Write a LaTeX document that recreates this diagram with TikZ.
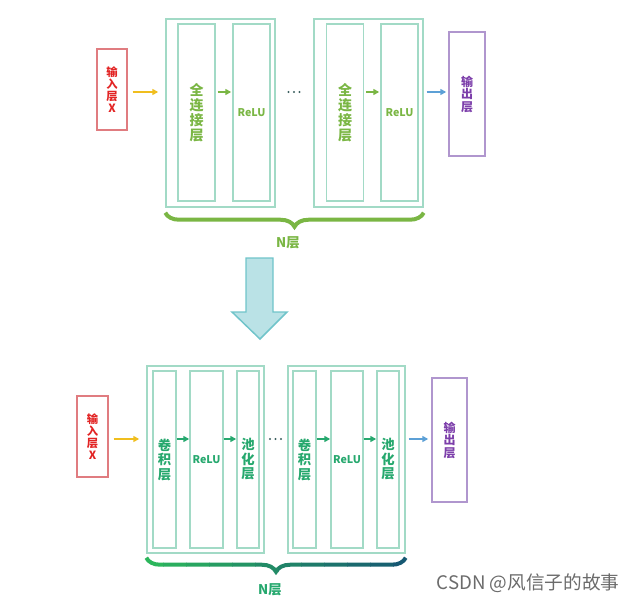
\documentclass[tikz,border=0pt]{standalone}
\usepackage{fontspec}
\newfontfamily\cjk{Noto Sans CJK SC}
\usetikzlibrary{arrows.meta,decorations.pathreplacing}
\definecolor{inred}{RGB}{224,124,128}
\definecolor{intxt}{RGB}{226,36,36}
\definecolor{outpur}{RGB}{176,150,206}
\definecolor{outtxt}{RGB}{124,62,170}
\definecolor{boxln}{RGB}{162,218,198}
\definecolor{fcgreen}{RGB}{122,182,68}
\definecolor{cnngreen}{RGB}{38,168,110}
\definecolor{yel}{RGB}{240,190,30}
\definecolor{blu}{RGB}{92,160,214}
\definecolor{braceA}{RGB}{44,182,92}
\definecolor{braceB}{RGB}{22,88,114}
\definecolor{downfill}{RGB}{186,226,230}
\definecolor{downln}{RGB}{112,196,202}
\definecolor{dotcol}{RGB}{60,96,96}

\tikzstyle{block}=[draw=boxln, line width=1.1pt, inner sep=0pt]
\tikzstyle{layer}=[block, align=center, font={\cjk\bfseries\fontsize{10.5}{11.3}\selectfont}]
\tikzstyle{cnnlayer}=[block, align=center, text=cnngreen, font={\cjk\bfseries\fontsize{10}{10.9}\selectfont}]
\tikzstyle{relu}=[block, font={\cjk\bfseries\fontsize{8}{8}\selectfont}]
\tikzstyle{inbox}=[draw=inred, line width=1.1pt, inner sep=0pt, align=center, text=intxt, font={\cjk\bfseries\fontsize{8.5}{9}\selectfont}]
\tikzstyle{outbox}=[draw=outpur, line width=1.1pt, inner sep=0pt, align=center, text=outtxt, font={\cjk\bfseries\fontsize{9}{9.4}\selectfont}]
\tikzstyle{nlabel}=[font={\cjk\bfseries\fontsize{10}{10}\selectfont}]
\tikzstyle{nbrace}=[decorate, decoration={brace, amplitude=10.5pt}, line width=3pt]
\tikzset{sz/.style 2 args={minimum width=#1*0.75pt, minimum height=#2*0.75pt}}
\tikzset{arr/.style={line width=1.3pt, -{Triangle[length=4.5pt,width=4.5pt]}}}
\newcommand{\layer}{\node[layer]}
\newcommand{\cnnlayer}{\node[cnnlayer]}

\begin{document}
\begin{tikzpicture}[x=0.75pt, y=-0.75pt]
\useasboundingbox (0,0) rectangle (640,604);

% fully connected net
\node[inbox, sz={30}{81}] (inX) at (112,89.5) {输\\入\\层\\X};
\node[block, sz={109}{188}] (blk1) at (220.5,113) {};
\layer[sz={37}{177}, text=fcgreen] (fc1) at (196.5,112.5) {全\\连\\接\\层};
\node[relu, sz={37}{177}, text=fcgreen] (relu1) at (251.5,112.5) {ReLU};
\coordinate (dt1) at (294,92);
\node[block, sz={109}{188}] (blk2) at (368.5,113) {};
\layer[sz={37}{177}, text=fcgreen] (fc2) at (345,112.5) {全\\连\\接\\层};
\node[relu, sz={37}{177}, text=fcgreen] (relu2) at (399.5,112.5) {ReLU};
\node[outbox, sz={36}{124}] (out1) at (467,94) {输\\出\\层};
\foreach \dx in {-5.5,0,5.5} \fill[dotcol] (dt1) ++(\dx,0) circle (1.1);
\path
(inX.east |- dt1) edge[arr, draw=yel, shorten <=3.75pt, shorten >=5.25pt] (blk1.west |- dt1)
(fc1.east |- dt1) edge[arr, draw=fcgreen, shorten <=1.5pt, shorten >=0.75pt] (relu1.west |- dt1)
(fc2.east |- dt1) edge[arr, draw=fcgreen, shorten <=1.5pt, shorten >=0.75pt] (relu2.west |- dt1)
(blk2.east |- dt1) edge[arr, draw=blu, shorten <=2.25pt, shorten >=1.5pt] (out1.west |- dt1)
;
\draw[nbrace, fcgreen] ([yshift=-3.75pt]blk2.south east) -- ([yshift=-3.75pt]blk1.south west);
\node[nlabel, text=fcgreen] (n1) at (288,243) {N层};

% down arrow
\draw[line width=1.1pt, draw=downln, fill=downfill] (246,258) -- (273,258) -- (273,312) -- (287,312) -- (260,339) -- (232,312) -- (246,312) -- cycle;

% convolutional net
\node[inbox, sz={31}{81}] (inX2) at (92.5,436.5) {输\\入\\层\\X};
\node[block, sz={117}{187}] (blk3) at (205.5,459.5) {};
\cnnlayer[sz={23}{177}] (conv1) at (164.5,459.5) {卷\\积\\层};
\node[relu, sz={33}{177}, text=cnngreen] (relu3) at (206.5,459.5) {ReLU};
\cnnlayer[sz={22}{177}] (pool1) at (248,459.5) {池\\化\\层};
\coordinate (dt2) at (275.5,439);
\node[block, sz={117}{187}] (blk4) at (346.5,459.5) {};
\cnnlayer[sz={23}{177}] (conv2) at (304.5,459.5) {卷\\积\\层};
\node[relu, sz={32}{177}, text=cnngreen] (relu4) at (347,459.5) {ReLU};
\cnnlayer[sz={22}{177}] (pool2) at (388,459.5) {池\\化\\层};
\node[outbox, sz={35}{124}] (out2) at (449.5,440) {输\\出\\层};
\foreach \dx in {-5.5,0,5.5} \fill[dotcol] (dt2) ++(\dx,0) circle (1.1);
\path
(inX2.east |- dt2) edge[arr, draw=yel, shorten <=3.75pt, shorten >=5.25pt] (blk3.west |- dt2)
(conv1.east |- dt2) edge[arr, draw=cnngreen] (relu3.west |- dt2)
(relu3.east |- dt2) edge[arr, draw=cnngreen] (pool1.west |- dt2)
(conv2.east |- dt2) edge[arr, draw=cnngreen] (relu4.west |- dt2)
(relu4.east |- dt2) edge[arr, draw=cnngreen] (pool2.west |- dt2)
(blk4.east |- dt2) edge[arr, draw=blu, shorten <=2.25pt, shorten >=2.25pt] (out2.west |- dt2)
;
\foreach \i in {0,...,11} {
  \pgfmathsetmacro\pc{100-\i*100/11}
  \begin{scope}
    \clip (140+\i*23,545) rectangle ++(23.5,40);
    \draw[nbrace, braceA!\pc!braceB] ([yshift=-3pt]blk4.south east) -- ([yshift=-3pt]blk3.south west);
  \end{scope}
}
\node[nlabel, text=cnngreen] (n2) at (270,590) {N层};

\node[font={\cjk\fontsize{14}{14}\selectfont}, text=black!58] (mark) at (528,583) {CSDN @风信子的故事};
\end{tikzpicture}
\end{document}
